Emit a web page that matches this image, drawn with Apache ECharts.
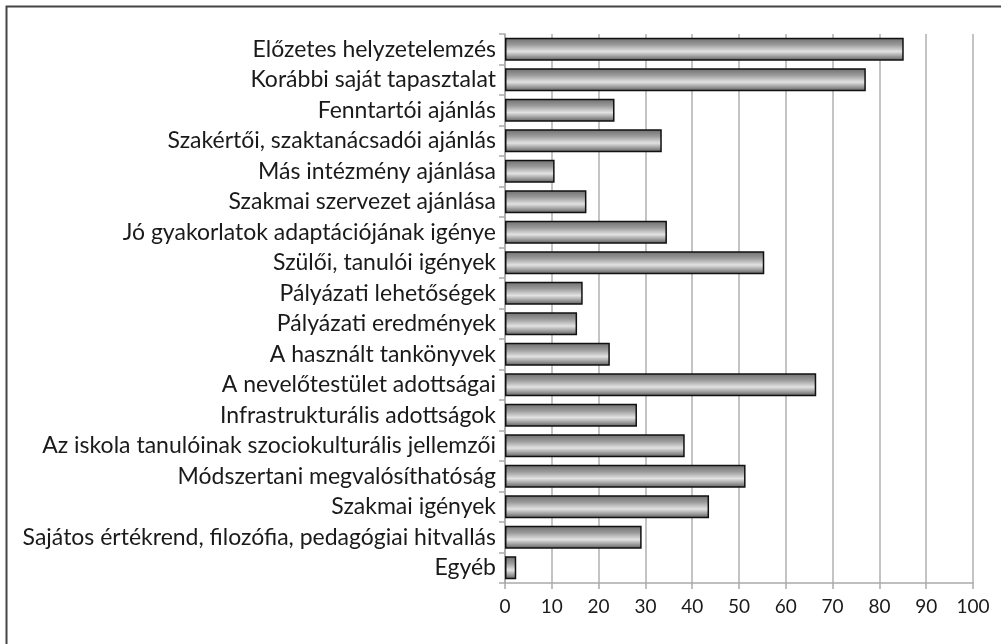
<!DOCTYPE html>
<html><head><meta charset="utf-8">
<script src="https://cdn.jsdelivr.net/npm/echarts@6/dist/echarts.min.js"></script>
<style>html,body{margin:0;padding:0;background:#fff}#c{width:1001px;height:644px}</style>
</head><body><div id="c"></div>
<script>
const categories = [
  "Előzetes helyzetelemzés",
  "Korábbi saját tapasztalat",
  "Fenntartói ajánlás",
  "Szakértői, szaktanácsadói ajánlás",
  "Más intézmény ajánlása",
  "Szakmai szervezet ajánlása",
  "Jó gyakorlatok adaptációjának igénye",
  "Szülői, tanulói igények",
  "Pályázati lehetőségek",
  "Pályázati eredmények",
  "A használt tankönyvek",
  "A nevelőtestület adottságai",
  "Infrastrukturális adottságok",
  "Az iskola tanulóinak szociokulturális jellemzői",
  "Módszertani megvalósíthatóság",
  "Szakmai igények",
  "Sajátos értékrend, filozófia, pedagógiai hitvallás",
  "Egyéb"
];
const values = [85.2, 77.1, 23.4, 33.5, 10.6, 17.4, 34.6, 55.4, 16.6, 15.4, 22.4, 66.5, 28.2, 38.4, 51.4, 43.6, 29.2, 2.4];
const xTicks = [0, 10, 20, 30, 40, 50, 60, 70, 80, 90, 100];

const chart = echarts.init(document.getElementById('c'), null, {renderer: 'canvas'});
const font = 'Lato, "Open Sans", sans-serif';
chart.setOption({
  animation: false,
  backgroundColor: '#fff',
  graphic: [{
    type: 'rect', left: 4, top: 4,
    shape: {x: 0, y: 0, width: 1100, height: 700},
    style: {fill: 'none', stroke: '#444', lineWidth: 2},
    silent: true
  }],
  grid: {left: 505, right: 28, top: 34, bottom: 61, containLabel: false},
  xAxis: {
    type: 'value', min: 0, max: 100, interval: 10,
    axisLine: {show: true, lineStyle: {color: '#aaa', width: 1.5}},
    axisTick: {show: true, length: 6, lineStyle: {color: '#aaa', width: 1.5}},
    splitLine: {show: true, lineStyle: {color: '#b0b0b0', width: 1.5}},
    axisLabel: {color: '#1a1a1a', fontFamily: font, fontSize: 19, margin: 14,
      formatter: v => xTicks.includes(v) ? String(v) : ''}
  },
  yAxis: {
    type: 'category', inverse: true, data: categories,
    axisLine: {show: true, lineStyle: {color: '#aaa', width: 1.5}},
    axisTick: {show: true, length: 6, lineStyle: {color: '#aaa', width: 1.5}},
    axisLabel: {color: '#1a1a1a', fontFamily: font, fontSize: 23, margin: 9, interval: 0, hideOverlap: false}
  },
  series: [{
    type: 'bar', data: values, barCategoryGap: '25%',
    itemStyle: {
      borderColor: '#111', borderWidth: 1.5,
      color: new echarts.graphic.LinearGradient(0, 0, 0, 1, [
        {offset: 0, color: '#6e6e6e'},
        {offset: 0.3, color: '#9a9a9a'},
        {offset: 0.6, color: '#e2e2e2'},
        {offset: 0.8, color: '#a0a0a0'},
        {offset: 1, color: '#5a5a5a'}
      ])
    }
  }]
});
</script></body></html>
